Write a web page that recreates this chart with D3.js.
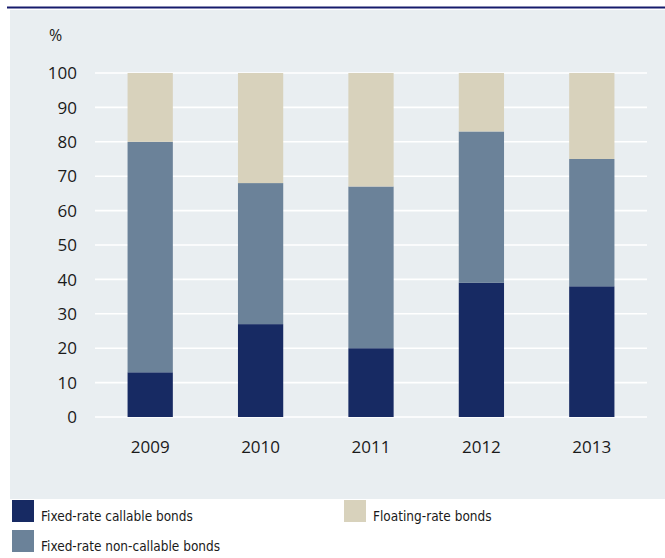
<!DOCTYPE html>
<html>
<head>
<meta charset="utf-8">
<script src="https://cdn.jsdelivr.net/npm/d3@7"></script>
<style>
  body { margin: 0; background: #fff; }
  svg { display: block; }
  text { font-family: "Open Sans", "Noto Sans", sans-serif; fill: #1a1a1a; }
  .legend text { font-family: "DejaVu Sans Condensed", "Noto Sans", sans-serif; }
</style>
</head>
<body>
<svg id="chart"></svg>
<script>
// data
const years = ["2009", "2010", "2011", "2012", "2013"];
const callable = [13, 27, 20, 39, 38];
const nonCallable = [67, 41, 47, 44, 37];
const floating = [20, 32, 33, 17, 25];
const seriesNames = ["Fixed-rate callable bonds", "Fixed-rate non-callable bonds", "Floating-rate bonds"];
const yTicks = [0, 10, 20, 30, 40, 50, 60, 70, 80, 90, 100];

const colors = ["#172a63", "#6b8299", "#d8d2bc"];
const width = 665, height = 558;
const margin = { top: 73, right: 18, bottom: 141, left: 95 };

const svg = d3.select("#chart").attr("width", width).attr("height", height);

// panel + top rule
svg.append("rect").attr("x", 10).attr("y", 10).attr("width", width - 10).attr("height", 489)
  .attr("fill", "#e9eef1");
svg.append("rect").attr("x", 7).attr("y", 6.5).attr("width", width - 7).attr("height", 2)
  .attr("fill", "#161b6c");

const x = d3.scaleBand().domain(years)
  .range([margin.left, width - margin.right])
  .paddingInner(0.59).paddingOuter(0.295);
const y = d3.scaleLinear().domain([0, 100]).range([height - margin.bottom, margin.top]);

// gridlines
svg.append("g").selectAll("line").data(yTicks).enter().append("line")
  .attr("x1", margin.left).attr("x2", width - margin.right)
  .attr("y1", d => y(d)).attr("y2", d => y(d))
  .attr("stroke", "#fff").attr("stroke-width", 1.6);

// y labels
svg.append("g").selectAll("text").data(yTicks).enter().append("text")
  .attr("x", 77).attr("y", d => y(d)).attr("dy", "0.36em")
  .attr("text-anchor", "end").style("font-size", "17px")
  .text(d => d);

svg.append("text").attr("x", 49).attr("y", 41).style("font-size", "16px").text("%");

// stacked bars
const rows = years.map((yr, i) => ({ year: yr, a: callable[i], b: nonCallable[i], c: floating[i] }));
const stack = d3.stack().keys(["a", "b", "c"])(rows);

svg.append("g").selectAll("g").data(stack).enter().append("g")
  .attr("fill", (d, i) => colors[i])
  .selectAll("rect").data(d => d).enter().append("rect")
  .attr("x", d => x(d.data.year))
  .attr("width", x.bandwidth())
  .attr("y", d => y(d[1]))
  .attr("height", d => y(d[0]) - y(d[1]));

// x labels
svg.append("g").selectAll("text").data(years).enter().append("text")
  .attr("x", d => x(d) + x.bandwidth() / 2).attr("y", 453)
  .attr("text-anchor", "middle").style("font-size", "17px")
  .text(d => d);

// legend
const legendPos = [
  { x: 12, y: 500 },
  { x: 12, y: 530 },
  { x: 344, y: 500 }
];
const legend = svg.append("g").attr("class", "legend").selectAll("g").data(seriesNames).enter().append("g")
  .attr("transform", (d, i) => "translate(" + legendPos[i].x + "," + legendPos[i].y + ")");
legend.append("rect").attr("width", 22).attr("height", 22).attr("fill", (d, i) => colors[i]);
legend.append("text").attr("x", 29).attr("y", 21).style("font-size", "13.5px").text(d => d);
</script>
</body>
</html>
